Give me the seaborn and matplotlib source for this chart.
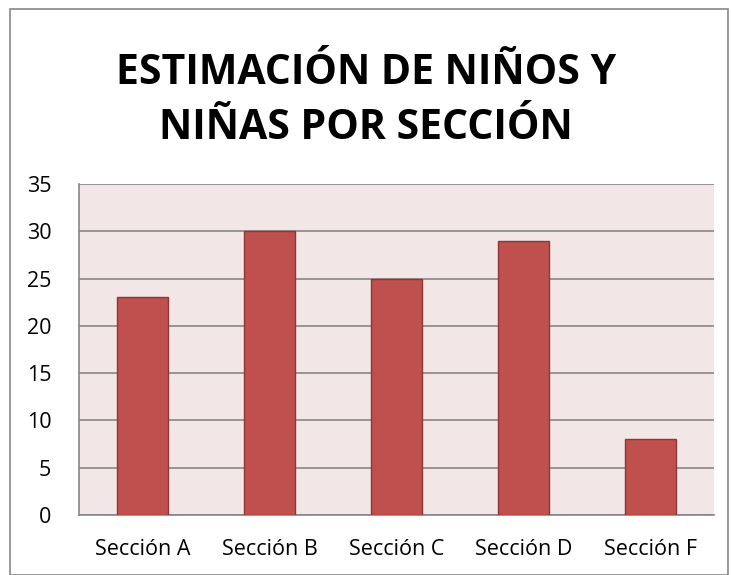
import matplotlib
matplotlib.use("Agg")
import matplotlib.pyplot as plt
import seaborn as sns
import pandas as pd

# Data
secciones = ['Sección A', 'Sección B', 'Sección C', 'Sección D', 'Sección F']
ninos = [23, 30, 25, 29, 8]
yticks = [0, 5, 10, 15, 20, 25, 30, 35]

df = pd.DataFrame({'Seccion': secciones, 'Cantidad': ninos})

sns.set_style('white')
plt.rcParams['font.family'] = ['Open Sans', 'DejaVu Sans']
plt.rcParams['text.color'] = 'black'
plt.rcParams['xtick.color'] = 'black'
plt.rcParams['ytick.color'] = 'black'

fig = plt.figure(figsize=(7.32, 5.75), dpi=100)
ax = fig.add_axes([79 / 732, 1 - 515 / 575, 635 / 732, 331 / 575])

# Outer chart border
fig.patches.append(plt.Rectangle((10 / 732, 0), 718 / 732, 1 - 9 / 575, transform=fig.transFigure,
                                 fill=False, edgecolor='#888888', linewidth=1.2))

ax.set_facecolor('#F2E6E6')
sns.barplot(data=df, x='Seccion', y='Cantidad', color='#C0504D', width=0.4,
            edgecolor='#8C3836', linewidth=1.0, saturation=1, ax=ax, zorder=3)

ax.set_ylim(0, 35)
ax.set_yticks(yticks)
ax.yaxis.grid(True, color='#868686', linewidth=1.2, zorder=0)
ax.set_axisbelow(True)
for side in ['top', 'right']:
    ax.spines[side].set_visible(False)
ax.spines['left'].set_color('#868686')
ax.spines['bottom'].set_color('#868686')
ax.spines['left'].set_linewidth(1.2)
ax.spines['bottom'].set_linewidth(1.2)
ax.tick_params(axis='x', length=0, labelsize=15.5, pad=17)
ax.tick_params(axis='y', length=0, labelsize=15.5, pad=20)
ax.set_xlabel('')
ax.set_ylabel('')

fig.text(0.5, 1 - 101 / 575, 'ESTIMACIÓN DE NIÑOS Y\nNIÑAS POR SECCIÓN', ha='center', va='center',
         fontsize=29.5, fontweight='bold', linespacing=1.42)

fig.savefig('out.png', dpi=100)
